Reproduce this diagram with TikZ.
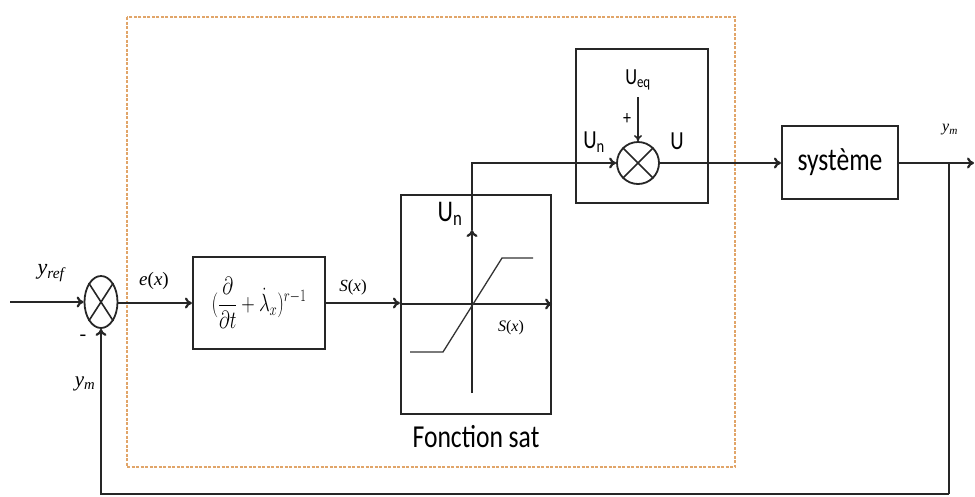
\documentclass[tikz,border=0pt]{standalone}
\usepackage{fontspec}
\setmainfont{Liberation Serif}
\newfontfamily\condsans[FakeStretch=0.8]{Carlito}
\usetikzlibrary{arrows.meta,shapes.geometric}
\definecolor{dashor}{RGB}{225,165,105}
\tikzset{
  wire/.style={line width=2.2pt,draw=black!85},
  arr/.style={wire,-{To[length=7pt,width=11pt]}},
  blk/.style={draw=black!85,line width=2.2pt,rectangle,inner sep=0pt},
  sumj/.style={draw=black!85,line width=1.8pt,ellipse,inner sep=0pt},
  slab/.style={inner sep=0pt,font=\fontsize{20}{22}\selectfont\itshape},
  sanslab/.style={inner sep=0pt,font=\condsans\fontsize{26}{28}\selectfont},
}
\begin{document}
\begin{tikzpicture}[x=1pt,y=-1pt]
\useasboundingbox (0,0) rectangle (975,496);
% dashed frame
\draw[dashor,line width=1.6pt,dash pattern=on 3pt off 1.5pt] (127,17) rectangle (735,467);
% nodes
\coordinate (yin) at (10,302);
\node[sumj,minimum width=33pt,minimum height=52pt] (sj1) at (101,302) {};
\draw[line width=1.6pt,black!85] (sj1.north east) -- (sj1.south west) (sj1.north west) -- (sj1.south east);
\node[blk,minimum width=132pt,minimum height=92pt] (b2) at (259,303)
  {\scalebox{0.75}[1]{\fontsize{23}{28}\selectfont$\displaystyle(\frac{\partial}{\partial t}+\dot{\lambda}_{x})^{r-1}$}};
\node[blk,minimum width=150pt,minimum height=219pt] (sat) at (476,304.5) {};
\node[blk,minimum width=132pt,minimum height=154pt] (b3) at (642,126) {};
\node[sumj,circle,minimum size=42pt] (sj2) at (638,163) {};
\draw[line width=1.6pt,black!85] (sj2.north east) -- (sj2.south west) (sj2.north west) -- (sj2.south east);
\node[blk,minimum width=116pt,minimum height=73pt,font=\condsans\fontsize{32}{34}\selectfont] (sys) at (840,162.5) {système};
\coordinate (yout) at (974,163);
\coordinate (br) at (949,163);
\coordinate (fb) at (949,494);
% saturation axes
\coordinate (vb) at (472,393);
\coordinate (vt) at (472,230);
\draw[arr] (yin) -- (sj1.west);
\draw[arr] (sj1.east |- 0,303) -- (b2.west |- 0,303);
\draw[arr] (b2.east |- 0,303) -- (sat.west |- 0,303);
\draw[arr] (sat.west |- 0,304) -- (sat.east |- 0,304);
\draw[arr] (vb) -- (vt);
\draw[arr] (vt) |- (sj2.west);
\draw[line width=1.3pt,black!80] (410,352) -- (443,352) -- (502,258) -- (533,258);
\draw[arr] (sj2.east) -- (sj2.east -| sys.west);
\draw[arr] (sys.east |- yout) -- (yout);
\draw[wire] (br) -- (fb);
\draw[arr] (fb) -| (sj1.south);
\coordinate (ueqs) at (638,97);
\draw[line width=1.6pt,black!85,-{To[length=6pt,width=8pt]}] (ueqs) -- (sj2.north);
% labels
\node[slab,font=\fontsize{22}{24}\selectfont\itshape] (lyref) at (51,273) {y\textsubscript{ref}};
\node[slab,font=\fontsize{19}{22}\selectfont] (lex) at (154,281) {\textit{e}(\textit{x})};
\node[slab,font=\fontsize{17}{20}\selectfont] (lsx) at (353,287) {\textit{S}(\textit{x})};
\node[inner sep=0pt,font=\fontsize{20}{22}\selectfont] (lminus) at (83,338) {-};
\node[slab,font=\fontsize{21}{22}\selectfont\itshape] (lym) at (85,384) {y\textsubscript{m}};
\node[sanslab,font=\condsans\fontsize{30}{32}\selectfont] (lun1) at (450,214) {U\textsubscript{n}};
\node[slab,font=\fontsize{16}{18}\selectfont] (lsx2) at (511,328) {\textit{S}(\textit{x})};
\node[sanslab,font=\condsans\fontsize{32}{34}\selectfont] (lfs) at (476,437) {Fonction sat};
\node[sanslab,font=\condsans\fontsize{23}{25}\selectfont] (lueq) at (638,80) {U\textsubscript{eq}};
\node[sanslab,font=\condsans\fontsize{20}{22}\selectfont] (lplus) at (627,119) {+};
\node[sanslab] (lun2) at (594,142) {U\textsubscript{n}};
\node[sanslab] (lu) at (677,141) {U};
\node[slab,font=\fontsize{16}{18}\selectfont\itshape] (lym2) at (950,130) {y\textsubscript{m}};
\end{tikzpicture}
\end{document}
